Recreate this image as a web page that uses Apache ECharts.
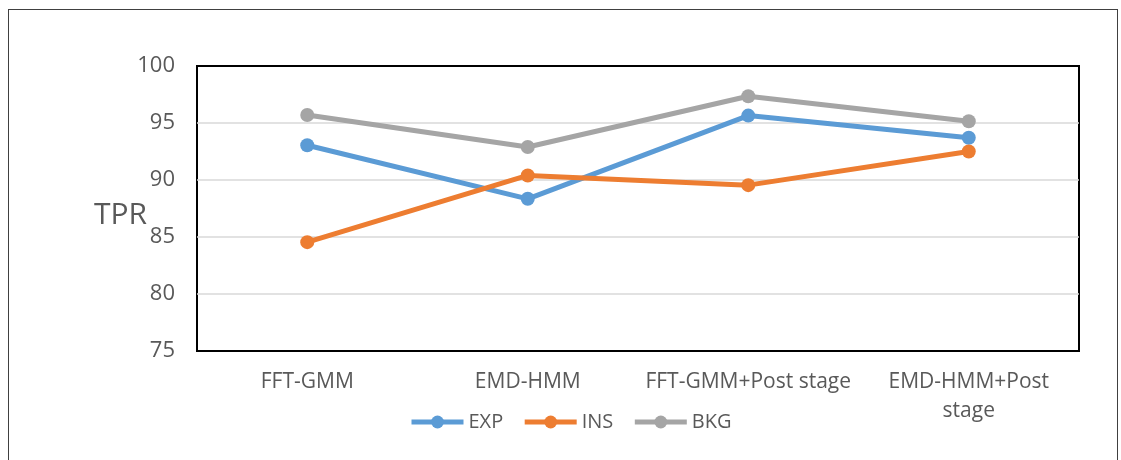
<!DOCTYPE html>
<html>
<head>
<meta charset="utf-8">
<script src="https://cdn.jsdelivr.net/npm/echarts@6/dist/echarts.min.js"></script>
<style>
  html, body { margin: 0; padding: 0; background: #fff; }
  #frame { position: absolute; left: 8px; top: 9px; width: 1110px; height: 460px; border: 1.5px solid #404040; box-sizing: border-box; }
  #chart { position: absolute; left: 0; top: 0; width: 1121px; height: 460px; }
</style>
</head>
<body>
<div id="frame"></div>
<div id="chart"></div>
<script>
// Methods compared along the x axis
const categories = ['FFT-GMM', 'EMD-HMM', 'FFT-GMM+Post stage', 'EMD-HMM+Post\nstage'];

// True positive rate (%) for each class
const expValues = [93.05, 88.35, 95.65, 93.7];
const insValues = [84.55, 90.4, 89.55, 92.5];
const bkgValues = [95.7, 92.9, 97.35, 95.15];

// Y axis range
const yMin = 75;
const yMax = 100;
const yStep = 5;

const fontFamily = '"Open Sans", "Liberation Sans", sans-serif';
const textColor = '#595959';

function lineSeries(name, data, color) {
  return {
    name: name,
    type: 'line',
    data: data,
    symbol: 'circle',
    symbolSize: 14,
    lineStyle: { color: color, width: 5 },
    itemStyle: { color: color },
    emphasis: { disabled: true },
    z: 3
  };
}

const chart = echarts.init(document.getElementById('chart'));
chart.setOption({
  animation: false,
  grid: {
    left: 197, right: 42, top: 66, bottom: 109,
    show: true, borderColor: '#000', borderWidth: 2, backgroundColor: 'transparent'
  },
  legend: {
    left: 404, top: 407,
    itemWidth: 52, itemHeight: 16, itemGap: 19,
    lineStyle: { width: 5 },
    textStyle: { fontFamily: fontFamily, fontSize: 20, color: textColor },
    data: ['EXP', 'INS', 'BKG']
  },
  graphic: [{
    type: 'text',
    left: 94, top: 200,
    style: { text: 'TPR', fontFamily: fontFamily, fontSize: 30, fill: textColor }
  }],
  xAxis: {
    type: 'category',
    data: categories,
    boundaryGap: true,
    axisLine: { show: false },
    axisTick: { show: false },
    axisLabel: { interval: 0, fontFamily: fontFamily, fontSize: 21, color: textColor, margin: 17, lineHeight: 29 }
  },
  yAxis: {
    type: 'value',
    min: yMin, max: yMax, interval: yStep,
    axisLine: { show: false },
    axisTick: { show: false },
    axisLabel: { fontFamily: fontFamily, fontSize: 22, color: textColor, margin: 22 },
    splitLine: { showMinLine: false, showMaxLine: false, lineStyle: { color: '#D9D9D9', width: 1.5 } }
  },
  series: [
    lineSeries('EXP', expValues, '#5B9BD5'),
    lineSeries('INS', insValues, '#ED7D31'),
    lineSeries('BKG', bkgValues, '#A5A5A5')
  ]
});
</script>
</body>
</html>
